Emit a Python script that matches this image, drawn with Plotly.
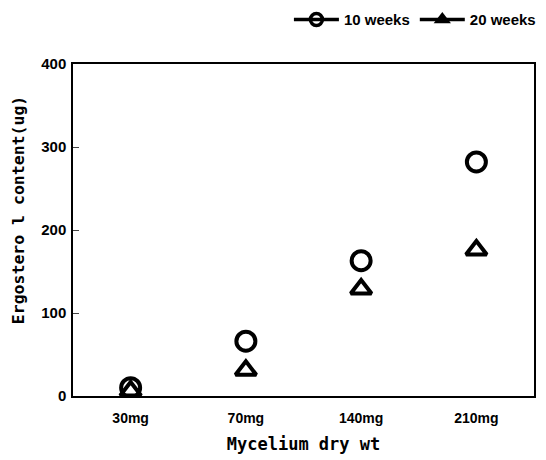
import plotly.graph_objects as go

categories = ["30mg", "70mg", "140mg", "210mg"]
weeks10 = [10, 66, 163, 282]
weeks20 = [6, 31, 129, 176]
y_ticks = [0, 100, 200, 300, 400]

xpos = list(range(len(categories)))
fig = go.Figure()

fig.add_trace(go.Scatter(x=xpos, y=weeks10, mode="markers", showlegend=False,
                         marker=dict(symbol="circle-open", size=19, color="black",
                                     line=dict(width=4, color="black"))))
fig.add_trace(go.Scatter(x=xpos, y=weeks20, mode="markers", showlegend=False,
                         marker=dict(symbol="triangle-up-open", size=18, color="black",
                                     line=dict(width=4, color="black"))))
# legend entries
fig.add_trace(go.Scatter(x=[None], y=[None], mode="lines+markers", name="10 weeks",
                         line=dict(color="black", width=3.5),
                         marker=dict(symbol="circle-open", size=12, color="black",
                                     line=dict(width=3.5, color="black"))))
fig.add_trace(go.Scatter(x=[None], y=[None], mode="lines+markers", name="20 weeks",
                         line=dict(color="black", width=3.5),
                         marker=dict(symbol="triangle-up", size=15, color="black")))

fig.update_layout(
    width=546, height=460,
    margin=dict(l=73, r=12, t=64, b=64, autoexpand=False),
    paper_bgcolor="white", plot_bgcolor="white",
    font=dict(family="Liberation Sans", color="black", size=12),
    legend=dict(orientation="h", x=1.015, xanchor="right", y=1.133, yanchor="middle",
                font=dict(family="Liberation Sans", size=15, weight="bold"),
                itemwidth=45, tracegroupgap=0, bgcolor="rgba(0,0,0,0)"),
    xaxis=dict(range=[-0.5, 3.5], tickvals=xpos, ticktext=categories,
               showgrid=False, zeroline=False, showline=True, linecolor="black",
               linewidth=1.5, mirror=True, ticks="", automargin=False,
               ticklabelstandoff=8,
               tickfont=dict(size=14, weight="bold"),
               title=dict(text="Mycelium dry wt", standoff=14,
                          font=dict(family="DejaVu Sans Mono", size=17, weight="bold"))),
    yaxis=dict(range=[0, 400], tickvals=y_ticks, automargin=False,
               showgrid=False, zeroline=False, showline=True, linecolor="black",
               linewidth=1.5, mirror=True, ticks="inside", ticklen=6, tickwidth=1.2,
               ticklabelstandoff=2,
               tickfont=dict(size=15, weight="bold")),
    annotations=[dict(text="Ergostero l content(ug)", textangle=-90,
                      xref="paper", yref="paper", x=-0.119, y=0.56,
                      xanchor="center", yanchor="middle", showarrow=False,
                      font=dict(family="DejaVu Sans Mono", size=16.5, weight="bold"))],
)

fig.write_html("out.html", config={"displayModeBar": False},
               post_script="document.body.style.margin='0';")
